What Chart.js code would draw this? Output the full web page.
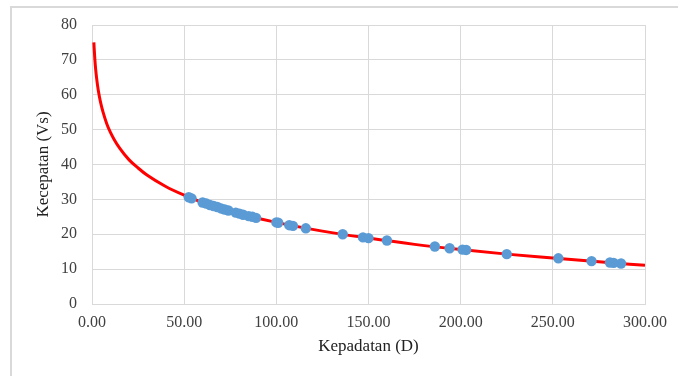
<!DOCTYPE html>
<html>
<head>
<meta charset="utf-8">
<script src="https://cdn.jsdelivr.net/npm/chart.js@4.4.1/dist/chart.umd.min.js"></script>
<style>
  html, body { margin: 0; padding: 0; background: #fff; }
  #wrap { position: relative; width: 678px; height: 376px; overflow: hidden; }
  #frame { position: absolute; left: 10px; top: 6px; width: 700px; height: 400px;
           border-top: 2px solid #D9D9D9; border-left: 2px solid #D9D9D9; box-sizing: border-box; }
  canvas { position: absolute; left: 0; top: 0; }
</style>
</head>
<body>
<div id="wrap">
  <div id="frame"></div>
  <canvas id="c" width="678" height="376"></canvas>
</div>
<script>
// Observed data points: density (D) and speed (Vs)
const densityD = [52.5, 54, 60, 62, 64, 66, 68, 70, 72, 74, 78, 80, 82, 85, 87, 89,
                  100, 101, 107, 109, 116, 136, 147, 150, 160, 186, 194, 201, 203,
                  225, 253, 271, 281, 283, 287];
const speedVs  = [30.6, 30.3, 29.1, 28.8, 28.4, 28.1, 27.8, 27.4, 27.1, 26.8, 26.2, 25.9, 25.6, 25.2, 25.0, 24.7,
                  23.4, 23.3, 22.6, 22.4, 21.7, 20.0, 19.1, 18.9, 18.2, 16.5, 16.0, 15.6, 15.5,
                  14.3, 13.1, 12.3, 11.9, 11.8, 11.6];

// Trend curve
const trendD  = [1, 1.5, 2, 3, 4, 5, 6, 8, 10, 12, 15, 20, 25, 30, 40, 50, 60, 70, 80,
                 100, 125, 150, 175, 200, 225, 250, 275, 300];
const trendVs = [75, 70.5, 67.2, 62.7, 59.5, 57.0, 55.0, 51.7, 49.2, 47.2, 44.7, 41.4, 39.0, 36.9, 33.7, 31.2, 29.1, 27.4, 25.9,
                 23.4, 20.9, 18.9, 17.1, 15.6, 14.3, 13.2, 12.1, 11.1];

const xTickLabels = ['0.00', '50.00', '100.00', '150.00', '200.00', '250.00', '300.00'];
const xTickValues = [0, 50, 100, 150, 200, 250, 300];
const yTickValues = [0, 10, 20, 30, 40, 50, 60, 70, 80];

const pts = densityD.map((d, i) => ({x: d, y: speedVs[i]}));
const trend = trendD.map((d, i) => ({x: d, y: trendVs[i]}));

new Chart(document.getElementById('c'), {
  type: 'scatter',
  data: {
    datasets: [
      {
        label: 'Data',
        data: pts,
        backgroundColor: '#5B9BD5',
        borderColor: '#5B9BD5',
        pointRadius: 5.2,
        pointBorderWidth: 0,
        order: 1
      },
      {
        label: 'Trend',
        data: trend,
        showLine: true,
        borderColor: '#FF0000',
        borderWidth: 3,
        pointRadius: 0,
        cubicInterpolationMode: 'monotone',
        order: 2
      }
    ]
  },
  options: {
    responsive: false,
    animation: false,
    layout: { padding: { left: 0, top: 25, right: 33, bottom: 0 } },
    plugins: { legend: { display: false }, tooltip: { enabled: false } },
    scales: {
      x: {
        type: 'linear',
        min: 0, max: 300,
        afterBuildTicks: s => { s.ticks = xTickValues.map(v => ({value: v})); },
        afterFit: s => { s.height = 72; },
        grid: { color: '#D9D9D9', drawTicks: false, lineWidth: 1 },
        border: { color: '#D9D9D9', width: 1 },
        ticks: {
          padding: 9,
          color: '#404040',
          font: { family: '"Liberation Serif", "Times New Roman", serif', size: 16 },
          callback: (v) => { const i = xTickValues.indexOf(v); return i >= 0 ? xTickLabels[i] : ''; }
        },
        title: {
          display: true,
          text: 'Kepadatan (D)',
          color: '#222',
          font: { family: '"Liberation Serif", "Times New Roman", serif', size: 17 },
          padding: { top: 0, bottom: 19 }
        }
      },
      y: {
        type: 'linear',
        min: 0, max: 80,
        afterBuildTicks: s => { s.ticks = yTickValues.map(v => ({value: v})); },
        afterFit: s => { s.width = 92; },
        grid: { color: '#D9D9D9', drawTicks: false, lineWidth: 1 },
        border: { color: '#D9D9D9', width: 1 },
        ticks: {
          padding: 15,
          color: '#404040',
          font: { family: '"Liberation Serif", "Times New Roman", serif', size: 16 }
        },
        title: {
          display: true,
          text: 'Kecepatan (Vs)',
          color: '#222',
          font: { family: '"Liberation Serif", "Times New Roman", serif', size: 17 },
          padding: { top: 33, bottom: 0 }
        }
      }
    }
  }
});
</script>
</body>
</html>
